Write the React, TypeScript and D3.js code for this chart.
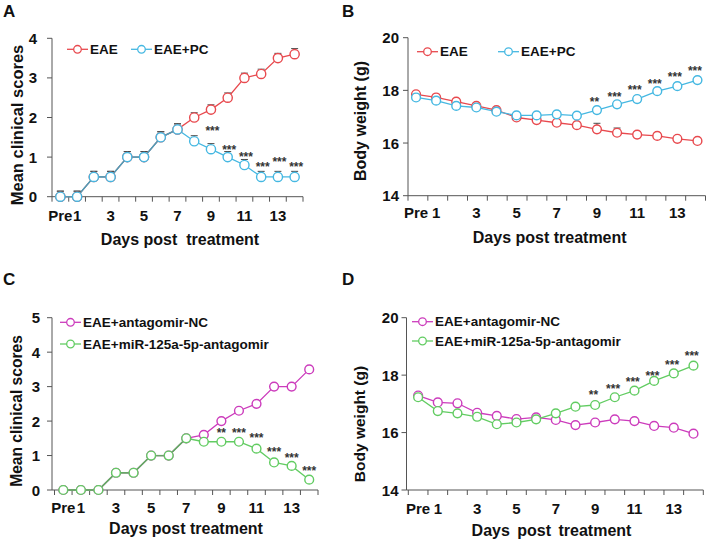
import React from "react";
import * as d3 from "d3";

// ---------- data ----------
const days = ["Pre", "1", "2", "3", "4", "5", "6", "7", "8", "9", "10", "11", "12", "13", "14"];
const shownTicks = ["Pre", "1", "3", "5", "7", "9", "11", "13"];

// Panel A: mean clinical scores
const scoreEAE = [0, 0, 0.5, 0.5, 1.0, 1.0, 1.5, 1.7, 2.0, 2.2, 2.5, 3.0, 3.1, 3.5, 3.6];
const scoreEAEErr = [0.14, 0.14, 0.14, 0.14, 0.14, 0.14, 0.14, 0.14, 0.12, 0.12, 0.12, 0.12, 0.12, 0.12, 0.14];
const scorePC = [0, 0, 0.5, 0.5, 1.0, 1.0, 1.5, 1.7, 1.4, 1.2, 1.0, 0.8, 0.5, 0.5, 0.5];
const scorePCErr = [0.14, 0.14, 0.14, 0.14, 0.14, 0.14, 0.14, 0.14, 0.14, 0.14, 0.14, 0.14, 0.14, 0.14, 0.14];
const starDaysA = ["9", "10", "11", "12", "13", "14"];
const starLabelsA = ["***", "***", "***", "***", "***", "***"];
const starLevelA = [1.73, 1.26, 1.08, 0.83, 0.95, 0.83];

// Panel B: body weight
const weightEAE = [17.85, 17.73, 17.57, 17.41, 17.25, 16.97, 16.87, 16.77, 16.68, 16.52, 16.39, 16.32, 16.27, 16.16, 16.08];
const weightEAEErr = [0.1, 0.1, 0.1, 0.1, 0.1, 0.1, 0.1, 0.1, 0.1, 0.23, 0.18, 0.1, 0.1, 0.1, 0.1];
const weightPC = [17.73, 17.61, 17.41, 17.35, 17.19, 17.05, 17.05, 17.09, 17.04, 17.25, 17.47, 17.67, 17.97, 18.16, 18.39];
const weightPCErr = [0.1, 0.1, 0.1, 0.1, 0.1, 0.1, 0.1, 0.1, 0.1, 0.1, 0.1, 0.1, 0.1, 0.1, 0.1];
const starDaysB = ["9", "10", "11", "12", "13", "14"];
const starLabelsB = ["**", "***", "***", "***", "***", "***"];
const starLevelB = [17.67, 17.86, 18.11, 18.37, 18.62, 18.84];

// Panel C: mean clinical scores (antagomir)
const scoreNC = [0, 0, 0, 0.5, 0.5, 1.0, 1.0, 1.5, 1.6, 2.0, 2.3, 2.5, 3.0, 3.0, 3.5];
const scoreAnti = [0, 0, 0, 0.5, 0.5, 1.0, 1.0, 1.5, 1.4, 1.4, 1.4, 1.2, 0.8, 0.7, 0.3];
const starDaysC = ["9", "10", "11", "12", "13", "14"];
const starLabelsC = ["**", "***", "***", "***", "***", "***"];
const starLevelC = [1.74, 1.74, 1.6, 1.18, 1.02, 0.63];

// Panel D: body weight (antagomir)
const weightNC = [17.29, 17.05, 17.02, 16.69, 16.58, 16.47, 16.53, 16.44, 16.26, 16.35, 16.46, 16.40, 16.23, 16.17, 15.96];
const weightAnti = [17.23, 16.75, 16.67, 16.55, 16.29, 16.35, 16.46, 16.67, 16.90, 16.96, 17.23, 17.46, 17.80, 18.06, 18.33];
const starDaysD = ["9", "10", "11", "12", "13", "14"];
const starLabelsD = ["**", "***", "***", "***", "***", "***"];
const starLevelD = [17.42, 17.62, 17.87, 18.09, 18.45, 18.76];

const yTicksScore4 = [0, 1, 2, 3, 4];
const yTicksScore5 = [0, 1, 2, 3, 4, 5];
const yTicksWeight = [14, 16, 18, 20];

// ---------- styles ----------
const FONT = "'Liberation Sans', Arial, Helvetica, sans-serif";
const RED = "#e8494e";
const BLUE = "#45b8e2";
const MAGENTA = "#cc3cbc";
const GREEN = "#62cc62";
const AXIS = "#555555";

type Series = { name: string; values: number[]; err?: number[]; color: string };

type PanelProps = {
  letter: string;
  letterX: number;
  letterY: number;
  axisX: number;
  xRange: [number, number];
  pad: number;
  yDomain: [number, number];
  yRange: [number, number];
  yTicks: number[];
  yLabelGap: number;
  xLabelY: number;
  xTitle: string;
  xTitleX: number;
  xTitleY: number;
  xTitleSpacing?: number;
  yTitle: string;
  yTitleX: number;
  yTitleY: number;
  yTitleSize: number;
  series: Series[];
  legend: { x: number; y: number }[];
  r: number;
  starDays: string[];
  starLabels: string[];
  starLevel: number[];
  starDx: number;
};

function Panel(p: PanelProps) {
  const x = d3.scalePoint<string>().domain(days).range(p.xRange).padding(p.pad);
  const y = d3.scaleLinear().domain(p.yDomain).range(p.yRange);
  const [x0, x1] = p.xRange;
  const tickXs = d3.range(16).map((i) => x0 + (i * (x1 - x0)) / 15);
  const y0 = p.yRange[0];
  const line = d3
    .line<number>()
    .x((_, i) => x(days[i]) as number)
    .y((d) => y(d));
  const [s1, s2] = p.series;
  const shared: number[] = [];
  for (let i = 0; i < days.length - 1; i++) {
    if (s1.values[i] === s2.values[i] && s1.values[i + 1] === s2.values[i + 1]) shared.push(i);
  }
  const sharedColor = d3.interpolateRgb(s2.color, "#707070")(0.45);

  return (
    <g fontFamily={FONT}>
      <text x={p.letterX} y={p.letterY} fontSize={17} fontWeight="bold" fill="#111">
        {p.letter}
      </text>
      {/* axes */}
      <line x1={p.axisX} x2={x1} y1={y0} y2={y0} stroke={AXIS} strokeWidth={1} />
      <line x1={p.axisX} x2={p.axisX} y1={y0} y2={p.yRange[1]} stroke={AXIS} strokeWidth={1} />
      {tickXs.map((tx, i) => (
        <line key={"xt" + i} x1={tx} x2={tx} y1={y0} y2={y0 + 5} stroke={AXIS} strokeWidth={1} />
      ))}
      {p.yTicks.map((t) => (
        <g key={"yt" + t}>
          <line x1={p.axisX - 5} x2={p.axisX} y1={y(t)} y2={y(t)} stroke={AXIS} strokeWidth={1} />
          <text
            x={p.axisX - p.yLabelGap}
            y={y(t)}
            textAnchor="end"
            dominantBaseline="central"
            fontSize={15}
            fontWeight="bold"
            fill="#111"
          >
            {t}
          </text>
        </g>
      ))}
      {shownTicks.map((d) => (
        <text key={"xl" + d} x={x(d)} y={p.xLabelY} textAnchor="middle" fontSize={15} fontWeight="bold" fill="#111">
          {d}
        </text>
      ))}
      <text
        x={p.xTitleX}
        y={p.xTitleY}
        textAnchor="middle"
        fontSize={16}
        fontWeight="bold"
        fill="#111"
        style={{ whiteSpace: "pre", wordSpacing: p.xTitleSpacing ?? 0 }}
      >
        {p.xTitle}
      </text>
      <text
        transform={`translate(${p.yTitleX},${p.yTitleY}) rotate(-90)`}
        textAnchor="middle"
        fontSize={p.yTitleSize}
        fontWeight="bold"
        fill="#111"
      >
        {p.yTitle}
      </text>
      {/* lines */}
      {p.series.map((s) => (
        <path key={"ln" + s.name} d={line(s.values) || ""} fill="none" stroke={s.color} strokeWidth={1.3} />
      ))}
      {shared.map((i) => (
        <line
          key={"sh" + i}
          x1={x(days[i])}
          x2={x(days[i + 1])}
          y1={y(s2.values[i])}
          y2={y(s2.values[i + 1])}
          stroke={sharedColor}
          strokeWidth={1.3}
        />
      ))}
      {/* error bars */}
      {p.series.map((s) =>
        s.err
          ? s.values.map((v, i) => (
              <g key={"eb" + s.name + i} stroke="#4a4a4a" strokeWidth={1}>
                <line x1={x(days[i])} x2={x(days[i])} y1={y(v)} y2={y(v + s.err![i])} />
                <line
                  x1={(x(days[i]) as number) - 3.5}
                  x2={(x(days[i]) as number) + 3.5}
                  y1={y(v + s.err![i])}
                  y2={y(v + s.err![i])}
                />
              </g>
            ))
          : null
      )}
      {/* markers */}
      {p.series.map((s) =>
        s.values.map((v, i) => (
          <circle
            key={"mk" + s.name + i}
            cx={x(days[i])}
            cy={y(v)}
            r={p.r}
            fill="#fff"
            stroke={s.color}
            strokeWidth={1.4}
          />
        ))
      )}
      {/* significance */}
      {p.starDays.map((d, i) => (
        <text
          key={"st" + d}
          x={(x(d) as number) + p.starDx}
          y={y(p.starLevel[i]) + 7}
          textAnchor="middle"
          fontSize={12}
          fontWeight="bold"
          fill="#333"
        >
          {p.starLabels[i]}
        </text>
      ))}
      {/* legend */}
      {p.series.map((s, i) => {
        const L = p.legend[i];
        return (
          <g key={"lg" + s.name}>
            <line x1={L.x} x2={L.x + 21} y1={L.y} y2={L.y} stroke={s.color} strokeWidth={1.3} />
            <circle cx={L.x + 10.5} cy={L.y} r={3.8} fill="#fff" stroke={s.color} strokeWidth={1.3} />
            <text x={L.x + 23} y={L.y} dominantBaseline="central" fontSize={13.5} fontWeight="bold" fill="#111">
              {s.name}
            </text>
          </g>
        );
      })}
    </g>
  );
}

export default function App() {
  return (
    <svg
      width={708}
      height={540}
      viewBox="0 0 708 540"
      style={{ position: "absolute", left: 0, top: 0, background: "#fff" }}
    >
      <rect x={0} y={0} width={708} height={540} fill="#fff" />
      <Panel
        letter="A"
        letterX={3}
        letterY={17}
        axisX={52}
        xRange={[52, 303]}
        pad={0.5}
        yDomain={[0, 4]}
        yRange={[196.7, 38.3]}
        yTicks={yTicksScore4}
        yLabelGap={15}
        xLabelY={220.5}
        xTitle="Days post  treatment"
        xTitleX={180}
        xTitleY={244.5}
        yTitle="Mean clinical scores"
        yTitleX={23}
        yTitleY={125}
        yTitleSize={16.5}
        series={[
          { name: "EAE", values: scoreEAE, err: scoreEAEErr, color: RED },
          { name: "EAE+PC", values: scorePC, err: scorePCErr, color: BLUE },
        ]}
        legend={[
          { x: 67, y: 49.3 },
          { x: 131, y: 49.3 },
        ]}
        r={4.6}
        starDays={starDaysA}
        starLabels={starLabelsA}
        starLevel={starLevelA}
        starDx={1.5}
      />
      <Panel
        letter="B"
        letterX={342}
        letterY={17}
        axisX={408}
        xRange={[408, 705.5]}
        pad={0.4}
        yDomain={[14, 20]}
        yRange={[195.7, 37.7]}
        yTicks={yTicksWeight}
        yLabelGap={9}
        xLabelY={218.3}
        xTitle="Days post treatment"
        xTitleX={549.7}
        xTitleY={243}
        yTitle="Body weight (g)"
        yTitleX={366}
        yTitleY={121}
        yTitleSize={16}
        series={[
          { name: "EAE", values: weightEAE, err: weightEAEErr, color: RED },
          { name: "EAE+PC", values: weightPC, err: weightPCErr, color: BLUE },
        ]}
        legend={[
          { x: 417, y: 51.7 },
          { x: 498, y: 51.7 },
        ]}
        r={4.4}
        starDays={starDaysB}
        starLabels={starLabelsB}
        starLevel={starLevelB}
        starDx={-2.5}
      />
      <Panel
        letter="C"
        letterX={3}
        letterY={285}
        axisX={52}
        xRange={[54.5, 318]}
        pad={0.5}
        yDomain={[0, 5]}
        yRange={[490, 317.7]}
        yTicks={yTicksScore5}
        yLabelGap={12}
        xLabelY={513}
        xTitle="Days post treatment"
        xTitleX={186}
        xTitleY={534}
        yTitle="Mean clinical scores"
        yTitleX={22}
        yTitleY={411}
        yTitleSize={15.6}
        series={[
          { name: "EAE+antagomir-NC", values: scoreNC, color: MAGENTA },
          { name: "EAE+miR-125a-5p-antagomir", values: scoreAnti, color: GREEN },
        ]}
        legend={[
          { x: 60, y: 322.3 },
          { x: 60, y: 344 },
        ]}
        r={4.4}
        starDays={starDaysC}
        starLabels={starLabelsC}
        starLevel={starLevelC}
        starDx={0}
      />
      <Panel
        letter="D"
        letterX={342}
        letterY={285}
        axisX={406.5}
        xRange={[408.3, 703.3]}
        pad={0.5}
        yDomain={[14, 20]}
        yRange={[490, 317.7]}
        yTicks={yTicksWeight}
        yLabelGap={8}
        xLabelY={514}
        xTitle="Days post treatment"
        xTitleSpacing={3}
        xTitleX={551.5}
        xTitleY={536}
        yTitle="Body weight (g)"
        yTitleX={365}
        yTitleY={424}
        yTitleSize={15.5}
        series={[
          { name: "EAE+antagomir-NC", values: weightNC, color: MAGENTA },
          { name: "EAE+miR-125a-5p-antagomir", values: weightAnti, color: GREEN },
        ]}
        legend={[
          { x: 412, y: 321.7 },
          { x: 412, y: 341 },
        ]}
        r={4.4}
        starDays={starDaysD}
        starLabels={starLabelsD}
        starLevel={starLevelD}
        starDx={-1.7}
      />
    </svg>
  );
}
